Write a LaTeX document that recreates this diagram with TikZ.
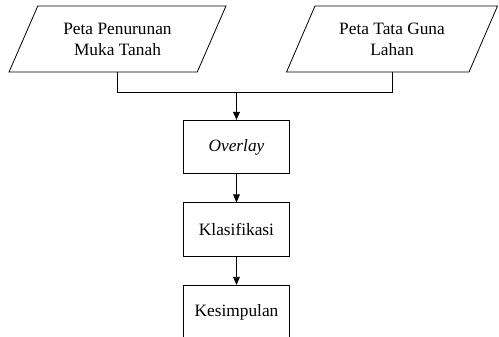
\documentclass[tikz,border=0pt]{standalone}
\usepackage{fontspec}
\setmainfont{Liberation Serif}
\usetikzlibrary{shapes.geometric,arrows.meta}

\begin{document}
\begin{tikzpicture}[x=0.75pt,y=-0.75pt,
    line width=0.6pt,>={Triangle[length=6pt,width=5pt]},
    data/.style={draw,trapezium,trapezium left angle=63,trapezium right angle=117,
      trapezium stretches=true,minimum height=49.5pt,align=center,
      font=\fontsize{13}{15.75}\selectfont},
    proc/.style={draw,rectangle,minimum width=79pt,minimum height=40pt,
      font=\fontsize{13}{15.75}\selectfont}]
      \useasboundingbox (0,0) rectangle (499,336) ;
      \node[data,minimum width=162.75pt] (peta1) at (117.5,39) {Peta Penurunan\\Muka Tanah} ;
      \node[data,minimum width=158.25pt] (peta2) at (392,39) {Peta Tata Guna\\Lahan} ;
      \coordinate (J) at (236.5,92) ;
      \node[proc] (overlay) at (236.5,147) {\textit{Overlay}} ;
      \node[proc] (klas) at (236.5,229.5) {Klasifikasi} ;
      \node[proc] (kesim) at (236.5,312) {Kesimpulan} ;
      \draw (peta1.center |- peta1.south) -- (peta1.center |- J) -- (peta2.center |- J)
        -- (peta2.center |- peta2.south) ;
      \draw[->,line width=1pt] (J) -- (overlay) ;
      \draw[->] (overlay) -- (klas) ;
      \draw[->] (klas) -- (kesim) ;
\end{tikzpicture}
\end{document}
